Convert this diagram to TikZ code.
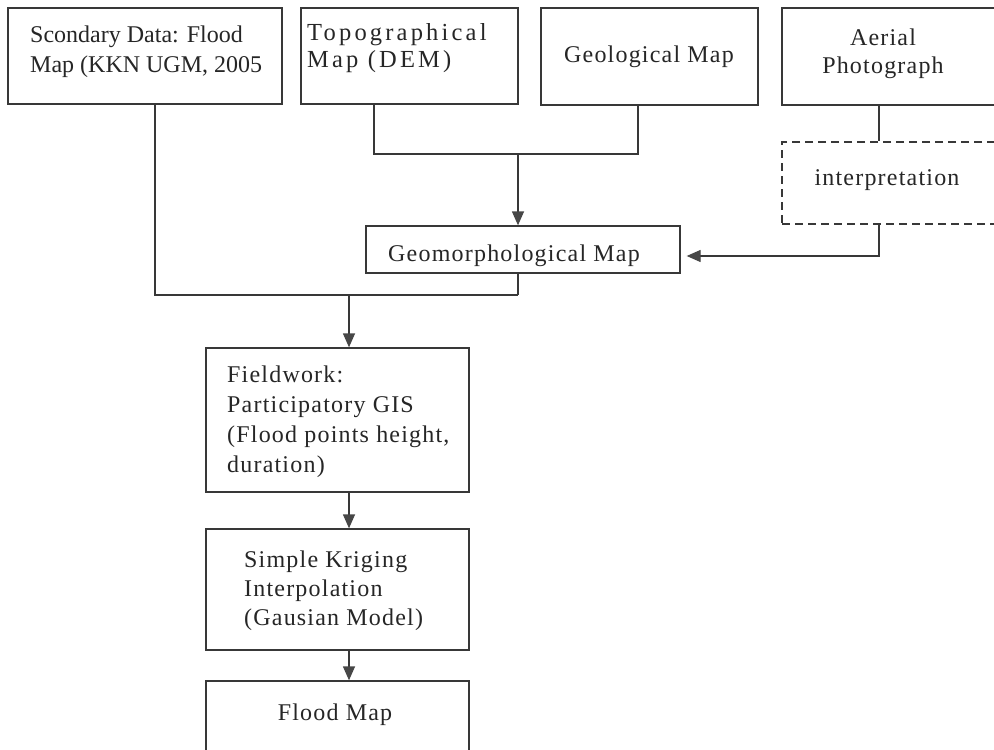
\documentclass[tikz,border=0pt]{standalone}
\usepackage{fontspec}
\setmainfont{Liberation Serif}[LetterSpace=5]
\newfontfamily\plainfont{Liberation Serif}
\newfontfamily\widefont{Liberation Serif}[LetterSpace=13]
\usetikzlibrary{arrows.meta}
\definecolor{lineC}{HTML}{383838}
\definecolor{arrC}{HTML}{474747}
\definecolor{textC}{HTML}{262626}
\begin{document}
\begin{tikzpicture}[x=1pt,y=-1pt,
  box/.style={draw=lineC, line width=1.3pt, rectangle, inner sep=0pt},
  dbox/.style={box, dash pattern=on 8pt off 5pt},
  txt/.style={inner sep=0pt, text=textC, font=\fontsize{24}{30}\selectfont},
  ln/.style={draw=lineC, line width=1.3pt},
  arr/.style={ln, -{Triangle[length=14pt,width=12pt,color=arrC]}}
]
\useasboundingbox (0,0) rectangle (994,750);
\clip (0,0) rectangle (994,750);
\fill[white] (0,0) rectangle (994,750);

% boxes
\node[box, minimum width=274pt, minimum height=96pt] (sec) at (145,56) {};
\node[box, minimum width=217pt, minimum height=96pt] (topo) at (409.5,56) {};
\node[box, minimum width=217pt, minimum height=97pt] (geol) at (649.5,56.5) {};
\node[box, minimum width=228pt, minimum height=97pt] (aer) at (896,56.5) {};
\node[dbox, minimum width=228pt, minimum height=82pt] (intp) at (896,183) {};
\node[box, minimum width=314pt, minimum height=47pt] (geom) at (523,249.5) {};
\node[box, minimum width=263pt, minimum height=144pt] (field) at (337.5,420) {};
\node[box, minimum width=263pt, minimum height=121pt] (krig) at (337.5,589.5) {};
\node[box, minimum width=263pt, minimum height=99pt] (flood) at (337.5,730.5) {};

% texts (anchor base = baseline of the last line)
\node[txt, anchor=base west, align=left] (secT) at (30,72) {\plainfont Scondary Data: Flood\\\plainfont Map (KKN UGM, 2005};
\node[txt, anchor=base west, align=left, font=\fontsize{24.5}{27}\selectfont\widefont] (topoT) at (307,67) {Topographical\\Map (DEM)};
\node[txt, anchor=base] (geolT) at (649,62) {Geological Map};
\node[txt, anchor=base, align=center, font=\fontsize{24}{28}\selectfont] (aerT) at (883,73) {Aerial\\Photograph};
\node[txt, anchor=base] (intT) at (887,185) {interpretation};
\node[txt, anchor=base] (geomT) at (514,261) {Geomorphological Map};
\node[txt, anchor=base west, align=left] (fieldT) at (227,472) {Fieldwork:\\Participatory GIS\\(Flood points height,\\duration)};
\node[txt, anchor=base west, align=left, font=\fontsize{24}{29}\selectfont] (krigT) at (244,625) {Simple Kriging\\Interpolation\\(Gausian Model)};
\node[txt, anchor=base] (floodT) at (335,720) {Flood Map};

% junctions
\coordinate (j1) at (349,295);
\coordinate (j2) at (518,295);
\coordinate (j3) at (518,154);

% connectors
\draw[ln] ([xshift=10pt]sec.south) |- (j2);
\draw[ln] ([xshift=-5pt]geom.south) -- (j2);
\draw[arr] (j1) -- (j1 |- field.north);
\draw[ln] ([xshift=-35.5pt]topo.south) |- (j3) -| ([xshift=-11.5pt]geol.south);
\draw[arr] (j3) -- (j3 |- geom.north);
\draw[ln] ([xshift=-17pt]aer.south) -- ([xshift=-17pt]intp.north);
\draw[arr, shorten >=6pt] ([xshift=-17pt]intp.south) |- ([yshift=-6.5pt]geom.east);
\draw[arr] (field.south -| j1) -- (krig.north -| j1);
\draw[arr] (krig.south -| j1) -- (flood.north -| j1);
\end{tikzpicture}
\end{document}
